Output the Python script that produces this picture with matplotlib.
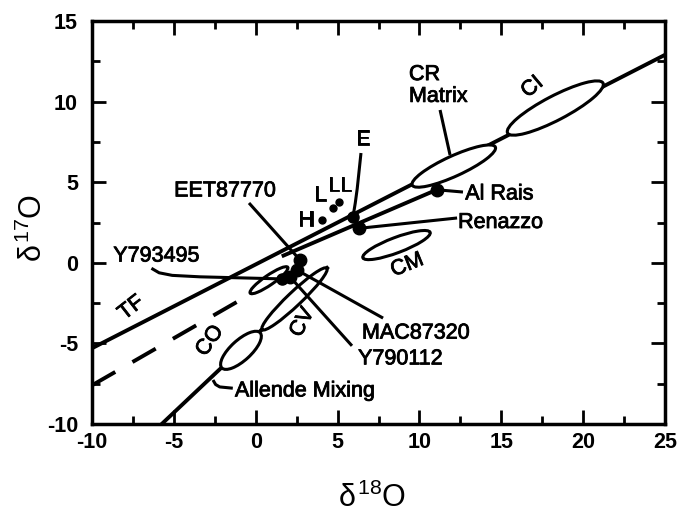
import numpy as np
import matplotlib
matplotlib.use("Agg")
import matplotlib.pyplot as plt
import matplotlib.patheffects as pe
from matplotlib.patches import Ellipse

plt.rcParams['font.family'] = ['Liberation Sans', 'DejaVu Sans']
plt.rcParams['mathtext.fontset'] = 'custom'
plt.rcParams['mathtext.rm'] = 'Liberation Sans'
plt.rcParams['mathtext.it'] = 'Liberation Sans'
plt.rcParams['axes.unicode_minus'] = False

# reference lines (delta18O, delta17O end points)
tf_x = [-10, 25]
tf_y = [-5.3, 12.9]
cr_x = [1.7, 11.1]
cr_y = [0.45, 4.55]
cr_dash_x = [-10, -1.1]
cr_dash_y = [-7.6, -2.4]
allende_x = [-5.74, 4.36]
allende_y = [-10, -0.32]

# fields drawn as ellipses
field_names = ['CI', 'CR Matrix', 'CM', 'CV', 'CO', 'CR chondrules']
field_x = [18.3, 12.1, 8.6, 2.37, -0.9, 0.81]
field_y = [9.6, 6.0, 1.1, -2.24, -5.43, -1.08]
field_len = [6.6, 5.6, 4.4, 5.5, 3.2, 2.8]
field_wid = [1.5, 1.25, 0.95, 0.85, 1.25, 0.6]
field_ang = [28, 25, 21, 44, 43, 35]

# meteorite points
pt_names = ['H', 'L', 'LL', 'E', 'Renazzo', 'Al Rais',
            'EET87770', 'MAC87320', 'Y790112', 'Y793495']
pt_x = [4.03, 4.73, 5.08, 5.94, 6.33, 11.07, 2.71, 2.52, 2.10, 1.61]
pt_y = [2.66, 3.38, 3.79, 2.84, 2.14, 4.53, 0.17, -0.45, -0.88, -1.0]
pt_size = [5, 5, 5, 8, 9, 9, 9, 9, 9, 8]

fig = plt.figure(figsize=(6.77, 5.21), dpi=100)
ax = fig.add_axes([92 / 677, 1 - 424 / 521, 573 / 677, 403 / 521])
ax.set_xlim(-10, 25)
ax.set_ylim(-10, 15)

lw = 2.8
ax.plot(tf_x, tf_y, color='black', lw=lw, zorder=2, solid_capstyle='butt')
ax.plot(cr_x, cr_y, color='black', lw=lw, zorder=2)
ax.plot(cr_dash_x, cr_dash_y, color='black', lw=lw, zorder=2,
        dashes=(6.9, 5.1))
ax.plot(allende_x, allende_y, color='black', lw=lw, zorder=2)

for i in range(len(field_names)):
    ax.add_patch(Ellipse((field_x[i], field_y[i]), field_len[i], field_wid[i],
                         angle=field_ang[i], facecolor='white',
                         edgecolor='black', lw=2.2, zorder=3))

# leader lines
leaders = [
    ([-0.41, 2.71], [3.71, 0.17]),                    # EET87770
    ([2.52, 7.78], [-0.45, -3.43]),                   # MAC87320
    ([2.10, 5.88], [-0.88, -5.15]),                   # Y790112
    ([-6.37, -5.9, -5.1, -3.4, 1.61], [-0.34, -0.62, -0.78, -0.87, -1.0]),  # Y793495
    ([6.33, 12.30], [2.14, 2.78]),                    # Renazzo
    ([11.07, 12.66], [4.53, 4.39]),                   # Al Rais
    ([11.26, 11.87], [9.48, 6.69]),                   # CR Matrix
    ([5.94, 6.08, 6.2, 6.43], [2.84, 3.7, 4.6, 6.81]),  # E
    ([-2.61, -2.45, -2.2, -1.4], [-7.27, -7.55, -7.7, -7.78]),  # Allende Mixing
]
for lx, ly in leaders:
    ax.plot(lx, ly, color='black', lw=2.2, zorder=4, solid_capstyle='butt')

for i in range(len(pt_names)):
    ax.plot(pt_x[i], pt_y[i], 'o', color='black', ms=pt_size[i], zorder=5)

fs = 15.5
heavy = [pe.withStroke(linewidth=0.6, foreground='black')]
txt = dict(fontsize=fs, color='black', zorder=6, path_effects=heavy)
ax.text(-7.6, -2.8, 'TF', rotation=38, ha='center', va='center', **txt)
ax.text(-2.8, -4.85, 'CO', rotation=55, ha='center', va='center', **txt)
ax.text(2.85, -3.7, 'CV', rotation=62, ha='center', va='center', **txt)
ax.text(9.25, -0.15, 'CM', rotation=22, ha='center', va='center', **txt)
ax.text(16.9, 10.9, 'CI', rotation=40, ha='center', va='center', **txt)
ax.text(9.36, 11.0, 'CR\nMatrix', ha='left', va='center', linespacing=1.05, **txt)
ax.text(6.55, 7.65, 'E', ha='center', va='center', **txt)
ax.text(3.1, 2.64, 'H', ha='center', va='center', **txt)
ax.text(3.97, 4.2, 'L', ha='center', va='center', **txt)
ax.text(5.15, 4.77, 'LL', ha='center', va='center', **txt)
ax.text(-1.88, 4.46, 'EET87770', ha='center', va='center', **txt)
ax.text(-8.7, 0.42, 'Y793495', ha='left', va='center', **txt)
ax.text(6.49, -4.36, 'MAC87320', ha='left', va='center', **txt)
ax.text(6.25, -5.96, 'Y790112', ha='left', va='center', **txt)
ax.text(-1.27, -7.95, 'Allende Mixing', ha='left', va='center', **txt)
ax.text(12.36, 2.5, 'Renazzo', ha='left', va='center', **txt)
ax.text(12.8, 4.27, 'Al Rais', ha='left', va='center', **txt)

ax.set_xticks(np.arange(-10, 26, 5))
ax.set_yticks(np.arange(-10, 16, 5))
ax.set_xticks(np.arange(-10, 26, 2.5), minor=True)
ax.set_yticks(np.arange(-10, 16, 2.5), minor=True)
ax.tick_params(which='both', direction='in', top=True, right=True, width=2)
ax.tick_params(which='major', length=10)
ax.tick_params(which='minor', length=6)
ax.tick_params(axis='x', which='major', pad=6, labelsize=15.5)
ax.tick_params(axis='y', which='major', pad=10, labelsize=15.5)
for lab in ax.get_xticklabels() + ax.get_yticklabels():
    lab.set_fontweight('bold')
for sp in ax.spines.values():
    sp.set_linewidth(2.5)

fig.text(33 / 677, 1 - 228 / 521, r'$\delta^{17}$O', rotation=90,
         ha='center', va='center', fontsize=22)
fig.text(372 / 677, 1 - 498 / 521, r'$\delta^{18}$O',
         ha='center', va='center', fontsize=22)

fig.savefig('out.png', dpi=100)
